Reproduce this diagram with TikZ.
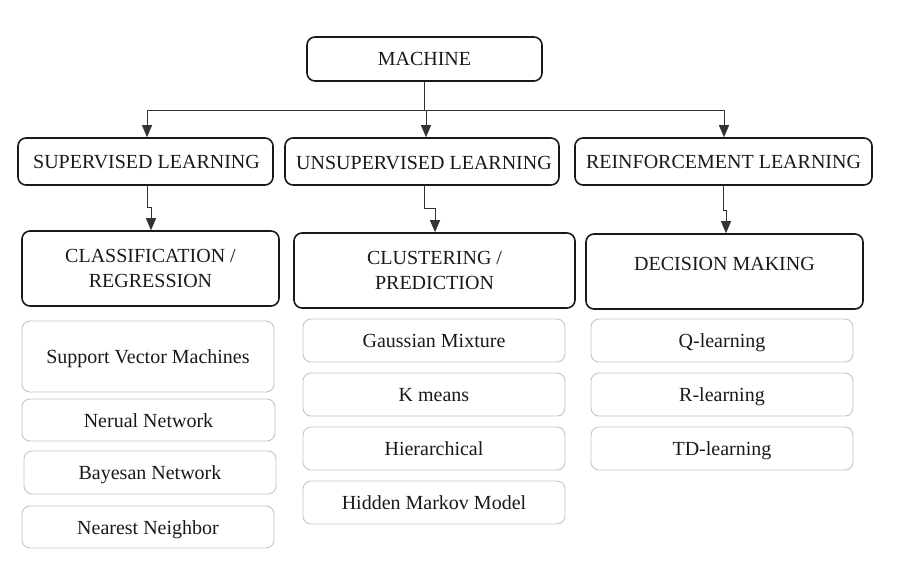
\documentclass[tikz,border=0pt]{standalone}
\usepackage{fontspec}
\setmainfont{Liberation Serif}
\usetikzlibrary{arrows.meta}
\definecolor{conn}{HTML}{333333}
\definecolor{lightb}{HTML}{C4C4C4}
\tikzset{
  bigbox/.style={draw=black!90, line width=1.6pt, rounded corners=8pt, inner sep=0pt},
  smallbox/.style={draw=lightb, line width=0.9pt, rounded corners=8pt, inner sep=0pt},
  lbl/.style={font=\fontsize{20}{25}\selectfont, align=center, inner sep=0pt, text=black!90},
  oneline/.style={lbl, text height=14pt, text depth=4pt},
  conline/.style={draw=conn, line width=0.9pt},
  arr/.style={conline, -{Triangle[width=10pt,length=12pt]}}
}
\begin{document}
\begin{tikzpicture}[x=1pt,y=-1pt]
\useasboundingbox (0,0) rectangle (897,565);
% level 1
\node[bigbox, minimum width=235pt, minimum height=44pt] (mach) at (424.5,59) {};
\node[oneline] (machT) at (424.5,60) {MACHINE};
% level 2
\node[bigbox, minimum width=255pt, minimum height=47pt] (sup) at (145.5,161.5) {};
\node[oneline] (supT) at (146.5,163) {SUPERVISED LEARNING};
\node[bigbox, minimum width=274pt, minimum height=47pt] (uns) at (422,161.5) {};
\node[oneline] (unsT) at (424,164) {UNSUPERVISED LEARNING};
\node[bigbox, minimum width=297pt, minimum height=47pt] (rei) at (723.5,161.5) {};
\node[oneline] (reiT) at (723.5,163) {REINFORCEMENT LEARNING};
% level 3
\node[bigbox, minimum width=257pt, minimum height=75pt] (cls) at (150.5,268.5) {};
\node[lbl] (clsT) at (150.5,268) {CLASSIFICATION /\\REGRESSION};
\node[bigbox, minimum width=281pt, minimum height=75pt] (clu) at (434.5,270.5) {};
\node[lbl] (cluT) at (434.5,270) {CLUSTERING /\\PREDICTION};
\node[bigbox, minimum width=277pt, minimum height=75pt] (dec) at (724.5,271.5) {};
\node[oneline] (decT) at (724.5,265) {DECISION MAKING};
% level 4 left
\node[smallbox, minimum width=252pt, minimum height=71pt] (svm) at (148,356.5) {};
\node[oneline] (svmT) at (148,358) {Support Vector Machines};
\node[smallbox, minimum width=253pt, minimum height=42pt] (nn) at (148.5,420) {};
\node[oneline] (nnT) at (148.5,422) {Nerual Network};
\node[smallbox, minimum width=252pt, minimum height=43pt] (bn) at (150,472.5) {};
\node[oneline] (bnT) at (150,474) {Bayesan Network};
\node[smallbox, minimum width=252pt, minimum height=42pt] (nnb) at (148,527) {};
\node[oneline] (nnbT) at (148,529) {Nearest Neighbor};
% level 4 middle
\node[smallbox, minimum width=262pt, minimum height=43pt] (gm) at (434,340.5) {};
\node[oneline] (gmT) at (434,342) {Gaussian Mixture};
\node[smallbox, minimum width=262pt, minimum height=43pt] (km) at (434,394.5) {};
\node[oneline] (kmT) at (434,396) {K means};
\node[smallbox, minimum width=262pt, minimum height=43pt] (hi) at (434,448.5) {};
\node[oneline] (hiT) at (434,450) {Hierarchical};
\node[smallbox, minimum width=262pt, minimum height=43pt] (hm) at (434,502.5) {};
\node[oneline] (hmT) at (434,504) {Hidden Markov Model};
% level 4 right
\node[smallbox, minimum width=262pt, minimum height=43pt] (ql) at (722,340.5) {};
\node[oneline] (qlT) at (722,342) {Q-learning};
\node[smallbox, minimum width=262pt, minimum height=43pt] (rl) at (722,394.5) {};
\node[oneline] (rlT) at (722,396) {R-learning};
\node[smallbox, minimum width=262pt, minimum height=43pt] (td) at (722,448.5) {};
\node[oneline] (tdT) at (722,450) {TD-learning};
% connectors level 1 -> 2
\coordinate (hub) at (424.5,110);
\coordinate (hL) at (147,110);
\coordinate (hM) at (426,110);
\coordinate (hR) at (724,110);
\draw[conline] (mach.south) -- (hub);
\draw[conline] (hL) -- (hR);
\draw[arr] (hL) -- (hL |- sup.north);
\draw[arr] (hM) -- (hM |- uns.north);
\draw[arr] (hR) -- (hR |- rei.north);
% connectors level 2 -> 3
\coordinate (a1) at (147,185);
\coordinate (a2) at (147,207);
\coordinate (a3) at (151,207);
\draw[arr] (a1) -- (a2) -- (a3) -- (a3 |- cls.north);
\coordinate (b1) at (424,185);
\coordinate (b2) at (424,208);
\coordinate (b3) at (435,208);
\draw[arr] (b1) -- (b2) -- (b3) -- (b3 |- clu.north);
\coordinate (c1) at (723,185);
\coordinate (c2) at (723,210);
\coordinate (c3) at (726,210);
\draw[arr] (c1) -- (c2) -- (c3) -- (c3 |- dec.north);
\end{tikzpicture}
\end{document}
